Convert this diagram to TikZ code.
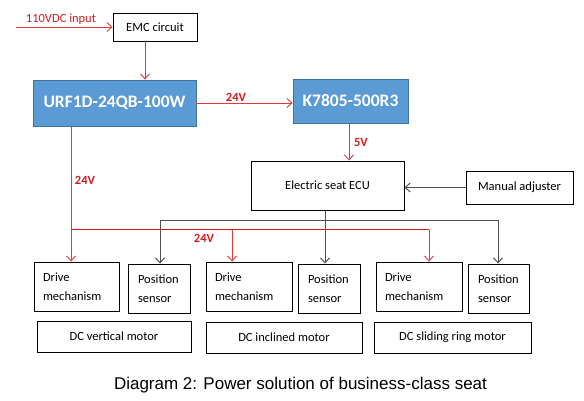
\documentclass[tikz,border=0pt]{standalone}
\usepackage{fontspec}
\setmainfont{Carlito}
\newfontfamily\capfont{Liberation Sans}
\usetikzlibrary{arrows.meta,calc}
\definecolor{lred}{RGB}{228,55,55}
\definecolor{bred}{RGB}{225,20,20}
\definecolor{tred}{RGB}{205,30,35}
\definecolor{bfill}{RGB}{91,155,213}
\definecolor{bdraw}{RGB}{65,113,156}
\definecolor{gline}{RGB}{80,80,80}
\tikzset{
  box/.style={draw=black, line width=0.9pt, inner sep=0pt, font=\fontsize{12.5}{14}\selectfont},
  bluebox/.style={draw=bdraw, fill=bfill, line width=0.8pt, inner sep=0pt, text=white, font=\fontsize{17.5}{20}\selectfont\bfseries},
  twoline/.style={box, align=left, font=\fontsize{12.5}{19}\selectfont},
  redarr/.style={draw=lred, line width=0.9pt, -{Straight Barb[length=5pt,width=9pt]}},
  redbus/.style={draw=bred, line width=1.6pt},
  grayarr/.style={draw=gline, line width=1pt, -{Straight Barb[length=5pt,width=9pt]}},
  grayline/.style={draw=gline, line width=1pt},
  vlabel/.style={text=tred, font=\fontsize{12.5}{14}\selectfont\bfseries, inner sep=0pt},
}
\begin{document}
\begin{tikzpicture}[x=1pt,y=-1pt]
\useasboundingbox (0,0) rectangle (584,401);
% top chain
\node[box, minimum width=84pt, minimum height=28pt] (emc) at (155,27) {EMC circuit};
\node[bluebox, minimum width=163pt, minimum height=46pt] (urf) at (114.5,103) {URF1D-24QB-100W};
\node[bluebox, minimum width=115pt, minimum height=44pt] (k78) at (350.5,101) {K7805-500R3};
\node[box, minimum width=153pt, minimum height=49pt] (ecu) at (327.5,185.5) {Electric seat ECU};
\node[box, minimum width=107pt, minimum height=33pt] (man) at (519.5,187.5) {Manual adjuster};
% bottom boxes
\node[twoline, minimum width=85pt, minimum height=49pt, text width=67pt] (d1) at (76.5,286.5) {Drive\\mechanism};
\node[twoline, minimum width=62pt, minimum height=49pt, text width=42pt] (p1) at (159,288.5) {Position\\sensor};
\node[twoline, minimum width=86pt, minimum height=49pt, text width=68pt] (d2) at (249,286.5) {Drive\\mechanism};
\node[twoline, minimum width=62pt, minimum height=49pt, text width=42pt] (p2) at (329,288.5) {Position\\sensor};
\node[twoline, minimum width=86pt, minimum height=49pt, text width=68pt] (d3) at (419,286.5) {Drive\\mechanism};
\node[twoline, minimum width=61pt, minimum height=49pt, text width=41pt] (p3) at (498.5,288.5) {Position\\sensor};
\node[box, minimum width=154pt, minimum height=31pt] (m1) at (114,336.5) {DC vertical motor};
\node[box, minimum width=156pt, minimum height=31pt] (m2) at (284,337.5) {DC inclined motor};
\node[box, minimum width=157pt, minimum height=31pt] (m3) at (452.5,337.5) {DC sliding ring motor};
% input
\coordinate (in) at (16,27);
\draw[redarr] (in) -- (emc.west);
\node[text=tred, font=\fontsize{12.5}{14}\selectfont, inner sep=0pt] (inlab) at (61,19) {110VDC input};
% EMC -> URF
\coordinate (e1) at ($(emc.south)+(-10,0)$);
\draw[redarr] (e1) -- (e1 |- urf.north);
% URF -> K7805
\draw[redarr] (urf.east) -- (urf.east -| k78.west);
\node[vlabel] (l24a) at (236,97) {24V};
% K7805 -> ECU
\coordinate (k1) at ($(k78.south)+(-1.5,0)$);
\draw[redarr] (k1) -- (k1 |- ecu.north);
\node[vlabel] (l5) at (361,142) {5V};
% Manual -> ECU
\draw[grayarr] (man.west) -- (man.west -| ecu.east);
% ECU tree
\coordinate (g0) at ($(ecu.south)+(-2.5,0)$);
\coordinate (gl) at (160,220);
\coordinate (gr) at (498,220);
\draw[grayline] (gl) -- (gr);
\draw[grayarr] (g0) -- (g0 |- p2.north);
\draw[grayarr] (gl) -- (gl |- p1.north);
\draw[grayarr] (gr) -- (gr |- p3.north);
% red power from URF
\coordinate (r0) at (71,0);
\draw[redarr] (urf.south -| r0) -- (d1.north -| r0);
\node[vlabel] (l24b) at (85,180) {24V};
\coordinate (rb1) at (71,229.5);
\coordinate (rb2) at (232,229.5);
\coordinate (rb3) at (429,229.5);
\draw[redbus] (rb1) -- (rb3);
\draw[redarr] (rb2) -- (rb2 |- d2.north);
\draw[redarr] (rb3) -- (rb3 |- d3.north);
\node[vlabel] (l24c) at (204,238) {24V};
% caption
\node[font=\capfont\fontsize{17}{20}\selectfont, inner sep=0pt] (cap) at (300.5,385) {Diagram 2: Power solution of business-class seat};
\end{tikzpicture}
\end{document}
